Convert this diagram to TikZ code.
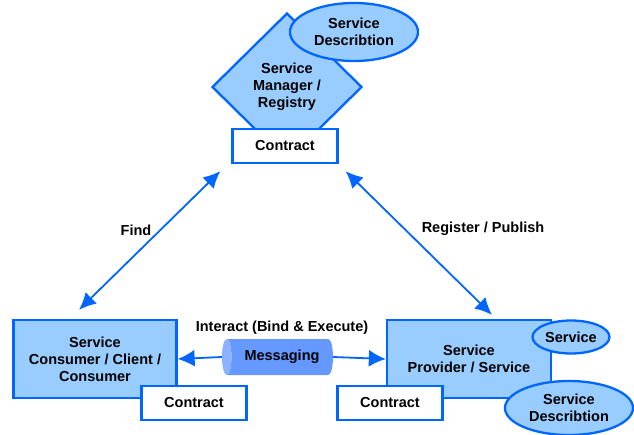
\documentclass[tikz,border=0pt]{standalone}
\usepackage{fontspec}
\setmainfont{Liberation Sans}
\usetikzlibrary{shapes.geometric,positioning,calc,arrows.meta}
\definecolor{soaazul}{RGB}{0,102,255}
\definecolor{soarelleno}{RGB}{153,204,255}
\definecolor{soamensaje}{RGB}{102,153,255}
\tikzset{
	rol/.style={rectangle, draw=soaazul, line width=2.3pt, fill=soarelleno,
		font=\bfseries\fontsize{14.5}{17}\selectfont, minimum width=163pt,
		minimum height=78pt, align=center},
	contrato/.style={rectangle, draw=soaazul, line width=2.3pt, fill=white,
		font=\bfseries\fontsize{14.5}{17}\selectfont, minimum width=105pt,
		minimum height=34pt},
	descr/.style={ellipse, draw=soaazul, line width=2.3pt, fill=soarelleno,
		font=\bfseries\fontsize{14.5}{17}\selectfont, inner sep=0pt, align=center},
	registro/.style={diamond, draw=soaazul, line width=2.3pt, fill=soarelleno,
		font=\bfseries\fontsize{14.5}{17}\selectfont, inner sep=0pt,
		minimum width=150pt, minimum height=148pt, align=center},
	etiqueta/.style={font=\bfseries\fontsize{14.5}{17}\selectfont},
	flecha/.style={draw=soaazul, line width=1.8pt,
		-{Latex[length=17pt,width=17pt]}},
	dobleflecha/.style={draw=soaazul, line width=1.8pt,
		{Latex[length=17pt,width=16pt]}-{Latex[length=17pt,width=16pt]}}
}

\begin{document}
\begin{tikzpicture}[x=1pt,y=-1pt]
	\useasboundingbox (0,0) rectangle (634,435);
	
	% registro arriba
	\node[registro] (registry) at (287,87) {Service\\Manager /\\Registry};
	\node[descr, minimum width=128pt, minimum height=58pt] (descTop) at (354,32) {Service\\Describtion};
	\node[contrato] (ctop) at (285,146) {Contract};
	
	% consumidor
	\node[rol] (consumer) at (95,359) {Service\\Consumer / Client /\\Consumer};
	\node[contrato] (cleft) at (194,403) {Contract};
	
	% proveedor
	\node[rol, minimum width=164pt] (provider) at (469,359) {Service\\Provider / Service};
	\node[descr, minimum width=77pt, minimum height=33pt] (service) at (571,337) {Service};
	\node[descr, minimum width=128pt, minimum height=54pt] (descBot) at (569,408) {Service\\Describtion};
	\node[contrato] (cright) at (390,403) {Contract};
	
	% mensajeria
	\node[cylinder, shape border rotate=180, aspect=0.3, cylinder uses custom fill,
		cylinder body fill=soamensaje, cylinder end fill=soamensaje!75!white,
		minimum width=36pt, minimum height=111pt, inner ysep=9pt, inner xsep=0pt,
		font=\bfseries\fontsize{14.5}{17}\selectfont] (msg) at (282,357) {Messaging};
	\node[etiqueta, above=1pt of msg] (interact) {Interact (Bind \& Execute)};
	
	\draw[flecha] (msg.west) -- (consumer.east);
	\draw[flecha] (msg.east) -- (provider.west);
	
	\draw[dobleflecha] ($(ctop.south west)+(-11,7)$) -- ($(consumer.north)+(-16,-9)$);
	\draw[dobleflecha] ($(ctop.south east)+(7,7)$) -- ($(provider.north)+(23,-4)$);
	
	\node[etiqueta] (find) at (136,230) {Find};
	\node[etiqueta] (publish) at (483,229) {Register / Publish};
\end{tikzpicture}
\end{document}
